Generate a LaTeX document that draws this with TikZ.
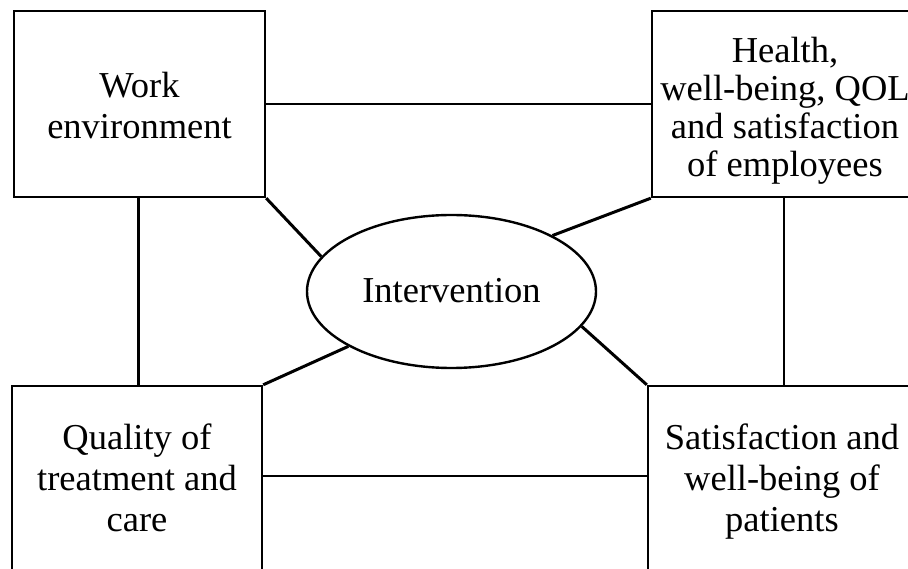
\documentclass[tikz,border=0pt]{standalone}
\usepackage{fontspec}
\setmainfont{Liberation Serif}
\usetikzlibrary{shapes.geometric,calc}
\begin{document}
\begin{tikzpicture}[x=1pt,y=-1pt,
  box/.style={draw, line width=2.4pt, rectangle, inner sep=0pt},
  lbl/.style={align=center, font=\fontsize{36.5}{41}\selectfont, inner sep=0pt},
  link/.style={line width=2.4pt},
  diag/.style={line width=3pt}]
\useasboundingbox (0,0) rectangle (908,569);
\clip (0,0) rectangle (908,569);
% boxes
\node[box, minimum width=251pt, minimum height=186pt] (we) at (139.5,104) {};
\node[box, minimum width=266pt, minimum height=186pt] (he) at (785,104) {};
\node[box, minimum width=250pt, minimum height=240pt] (qu) at (137,506) {};
\node[box, minimum width=266pt, minimum height=240pt] (pa) at (781,506) {};
\node[draw, line width=2.4pt, ellipse, inner sep=0pt, minimum width=289pt, minimum height=153pt] (iv) at (451.5,291.5) {};
% labels
\node[lbl] (twe) at (139.5,106) {Work\\environment};
\node[lbl, font=\fontsize{36.5}{38}\selectfont] (the) at (785,111) {Health,\\well-being, QOL\\and satisfaction\\of employees};
\node[lbl] (tqu) at (137,478) {Quality of\\treatment and\\care};
\node[lbl] (tpa) at (782,482) {Satisfaction and\\well-being of\\patients};
\node[lbl] (tiv) at (451.5,291) {Intervention};
% connectors
\draw[link] (we.east) -- (he.west);
\draw[link] ([xshift=-1pt]we.south) -- ([xshift=-1pt]we.south |- qu.north);
\draw[link] ([xshift=-1pt]he.south) -- ([xshift=-1pt]he.south |- pa.north);
\draw[link] ([yshift=-91pt]qu.north east) -- ([yshift=-91pt]qu.north east -| pa.west);
\draw[diag] (we.south east) -- (iv.165);
\draw[diag] (he.south west) -- (iv.29);
\draw[diag] (qu.north east) -- (iv.208);
\draw[diag] (pa.north west) -- (iv.345.5);
\end{tikzpicture}
\end{document}
